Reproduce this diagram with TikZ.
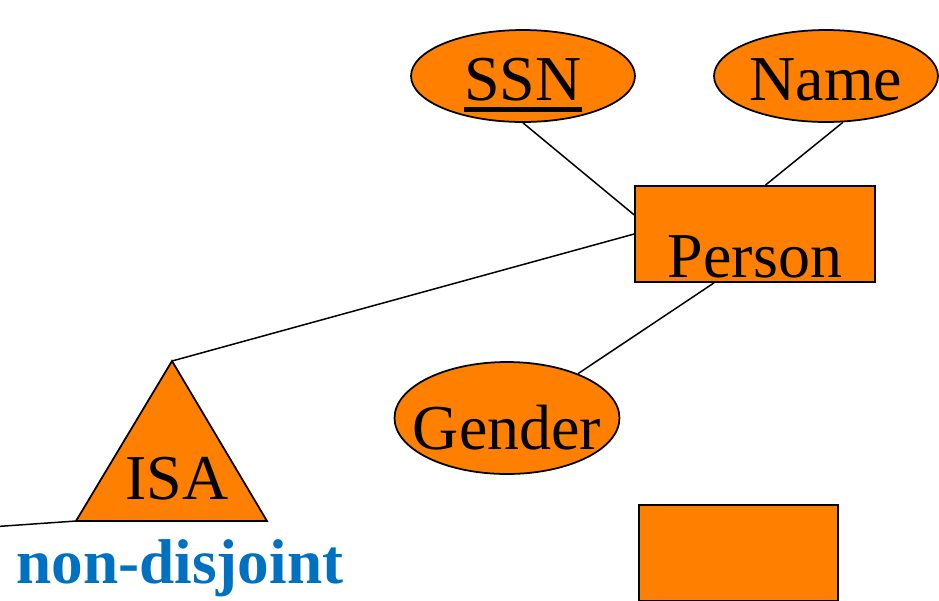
\documentclass[tikz,border=0pt]{standalone}
\usepackage{fontspec}
\setmainfont{LiberationSerif}[Extension=.ttf,UprightFont=*-Regular,BoldFont=*-Bold,ItalicFont=*-Italic,BoldItalicFont=*-BoldItalic]
\usetikzlibrary{shapes.geometric}

\definecolor{erorange}{RGB}{255,127,0}
\definecolor{erblue}{RGB}{0,112,192}

% key attribute: thick underline below the text
\newcommand{\keyattr}[1]{\setbox0\hbox{#1}\rlap{\rule[-0.22cm]{\wd0}{0.1cm}}\box0}

\begin{document}
\begin{tikzpicture}[x=0.02cm,y=-0.02cm,
	every node/.style={font=\fontsize{36.4}{40}\selectfont},
	attr/.style={ellipse,draw,fill=erorange,line width=1pt,inner sep=0pt,minimum width=4.48cm,minimum height=1.84cm,text depth=0pt,text height=0.98cm},
	entity/.style={rectangle,draw,fill=erorange,line width=1pt,inner sep=0pt,minimum width=4.8cm,minimum height=1.92cm},
	link/.style={line width=0.85pt}]
	\useasboundingbox (0,0) rectangle (939,600);

	% Attributes
	\node[attr] (ssn) at (523,76) {\keyattr{SSN}};
	\node[attr] (name) at (826,76) {Name};
	\node[attr,minimum width=4.5cm,minimum height=2.24cm,inner xsep=-0.35cm,text height=1.24cm] (gender) at (507,418) {Gender};

	% Entities
	\node[entity,text depth=0pt,text height=1.72cm] (person) at (755,234) {Person};
	\node[entity,minimum width=3.98cm] (sub) at (738.5,553) {};

	% ISA triangle
	\coordinate (isa top) at (172,361);
	\coordinate (isa left) at (76,521);
	\coordinate (isa right) at (267,521);
	\filldraw[fill=erorange,line width=1pt] (isa top) -- (isa right) -- (isa left) -- cycle;
	\node[anchor=base] (isa) at (177,499) {ISA};
	\node[anchor=base,text=erblue,font=\bfseries\fontsize{36}{40}\selectfont] (constraint) at (180,583) {non-disjoint};

	% Links
	\coordinate (off) at (-10,527);
	\draw[link] (ssn.south) -- (person.171);
	\draw[link] (name.-70) -- (person.78);
	\draw[link] (person.west) -- (isa top);
	\draw[link] (person.230) -- (gender.32);
	\draw[link] (isa left) -- (off);
\end{tikzpicture}
\end{document}
